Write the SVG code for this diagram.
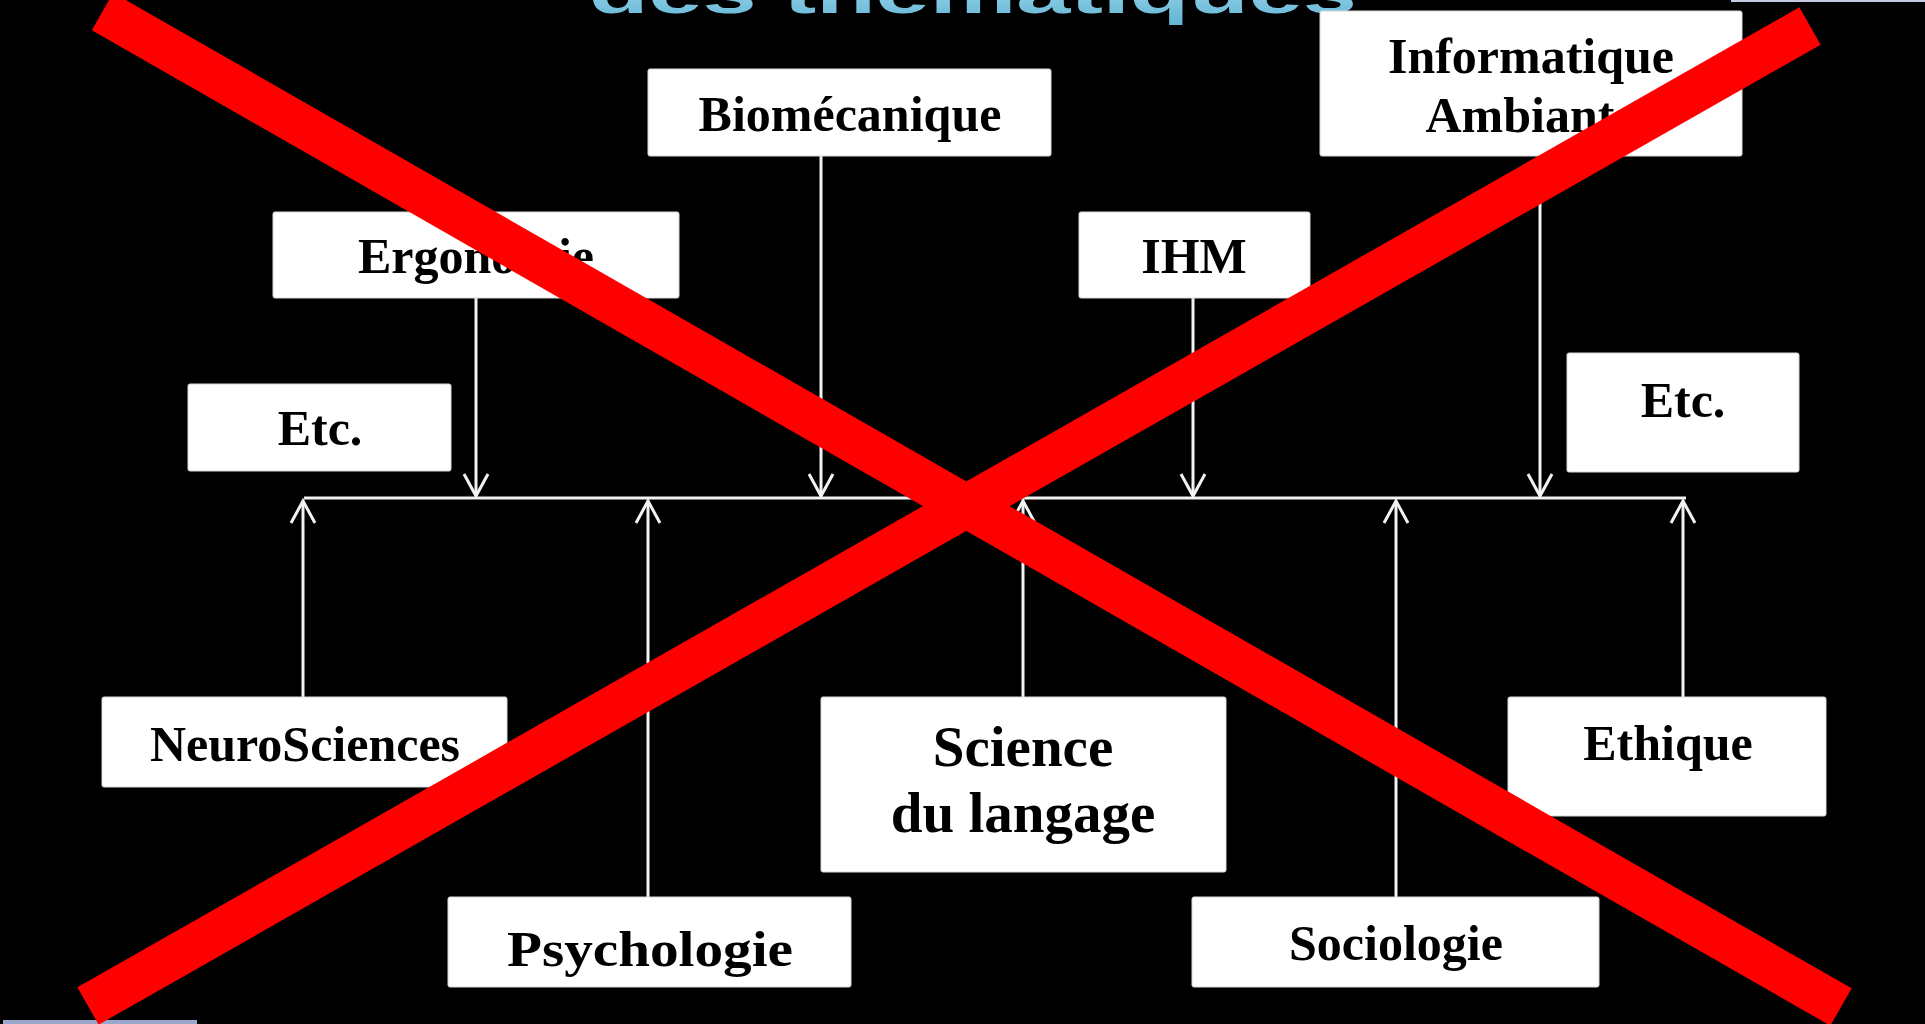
<svg xmlns="http://www.w3.org/2000/svg" width="1925" height="1024" viewBox="0 0 1925 1024">
  <defs>
    <style>
      .box { fill: #ffffff; stroke: #d8d8d8; stroke-width: 1; }
      .lbl { font-family: "Liberation Serif", "Times New Roman", serif; font-weight: bold; font-size: 50px; fill: #000000; text-anchor: middle; }
      .big { font-size: 57px; }
      .conn { stroke: #f2f2f2; stroke-width: 3; fill: none; }
      .cross { stroke: #ff0000; stroke-width: 43; stroke-linecap: butt; }
    </style>
    <marker id="arr" markerUnits="userSpaceOnUse" markerWidth="30" markerHeight="30" viewBox="-25 -15 30 30" refX="0" refY="0" orient="auto">
      <path d="M -22,-12 L 0,0 L -22,12" fill="none" stroke="#f2f2f2" stroke-width="3"/>
    </marker>
    <linearGradient id="tg" x1="0" y1="0" x2="0" y2="1">
      <stop offset="0" stop-color="#b8e6f6"/>
      <stop offset="1" stop-color="#5fb3d3"/>
    </linearGradient>
  </defs>

  <rect x="0" y="0" width="1925" height="1024" fill="#000000"/>

  <!-- partial title -->
  <text x="589" y="13" textLength="768" lengthAdjust="spacingAndGlyphs" font-family="Liberation Sans, Arial, sans-serif" font-weight="bold" font-size="60" fill="url(#tg)">des thématiques</text>
  <rect x="1731" y="0" width="194" height="2" fill="#c3cbe3"/>
  <rect x="3" y="1020" width="194" height="4" fill="#9aa6cc"/>

  <g id="connectors">
    <line class="conn" x1="304" y1="498" x2="1686" y2="498"/>
    <line class="conn" x1="476" y1="298" x2="476" y2="496" marker-end="url(#arr)"/>
    <line class="conn" x1="821" y1="156" x2="821" y2="496" marker-end="url(#arr)"/>
    <line class="conn" x1="1193" y1="298" x2="1193" y2="496" marker-end="url(#arr)"/>
    <line class="conn" x1="1540" y1="156" x2="1540" y2="496" marker-end="url(#arr)"/>
    <line class="conn" x1="303" y1="697" x2="303" y2="501" marker-end="url(#arr)"/>
    <line class="conn" x1="648" y1="897" x2="648" y2="501" marker-end="url(#arr)"/>
    <line class="conn" x1="1023" y1="697" x2="1023" y2="501" marker-end="url(#arr)"/>
    <line class="conn" x1="1396" y1="897" x2="1396" y2="501" marker-end="url(#arr)"/>
    <line class="conn" x1="1683" y1="697" x2="1683" y2="501" marker-end="url(#arr)"/>
  </g>

  <g id="n-biomecanique">
    <rect class="box" x="648" y="69" width="403" height="87" rx="2"/>
    <text class="lbl" x="850" y="131">Biomécanique</text>
  </g>
  <g id="n-informatique">
    <rect class="box" x="1320" y="11" width="422" height="145" rx="2"/>
    <text class="lbl" x="1531" y="73">Informatique</text>
    <text class="lbl" x="1531" y="132">Ambiante</text>
  </g>
  <g id="n-ergonomie">
    <rect class="box" x="273" y="212" width="406" height="86" rx="2"/>
    <text class="lbl" x="476" y="273">Ergonomie</text>
  </g>
  <g id="n-ihm">
    <rect class="box" x="1079" y="212" width="231" height="86" rx="2"/>
    <text class="lbl" x="1194" y="273">IHM</text>
  </g>
  <g id="n-etc-left">
    <rect class="box" x="188" y="384" width="263" height="87" rx="2"/>
    <text class="lbl" x="320" y="445">Etc.</text>
  </g>
  <g id="n-etc-right">
    <rect class="box" x="1567" y="353" width="232" height="119" rx="2"/>
    <text class="lbl" x="1683" y="417">Etc.</text>
  </g>
  <g id="n-neurosciences">
    <rect class="box" x="102" y="697" width="405" height="90" rx="2"/>
    <text class="lbl" x="305" y="761" font-size="51.5">NeuroSciences</text>
  </g>
  <g id="n-science-langage">
    <rect class="box" x="821" y="697" width="405" height="175" rx="2"/>
    <text class="lbl big" x="1023" y="766">Science</text>
    <text class="lbl big" x="1023" y="832">du langage</text>
  </g>
  <g id="n-ethique">
    <rect class="box" x="1508" y="697" width="318" height="119" rx="2"/>
    <text class="lbl" x="1668" y="760">Ethique</text>
  </g>
  <g id="n-psychologie">
    <rect class="box" x="448" y="897" width="403" height="90" rx="2"/>
    <text class="lbl" x="650" y="966" font-size="58" textLength="286" lengthAdjust="spacingAndGlyphs">Psychologie</text>
  </g>
  <g id="n-sociologie">
    <rect class="box" x="1192" y="897" width="407" height="90" rx="2"/>
    <text class="lbl" x="1396" y="960">Sociologie</text>
  </g>

  <g id="red-cross">
    <line class="cross" x1="102.5" y1="11.5" x2="1841" y2="1007"/>
    <line class="cross" x1="88" y1="1006" x2="1810" y2="26"/>
  </g>
</svg>
